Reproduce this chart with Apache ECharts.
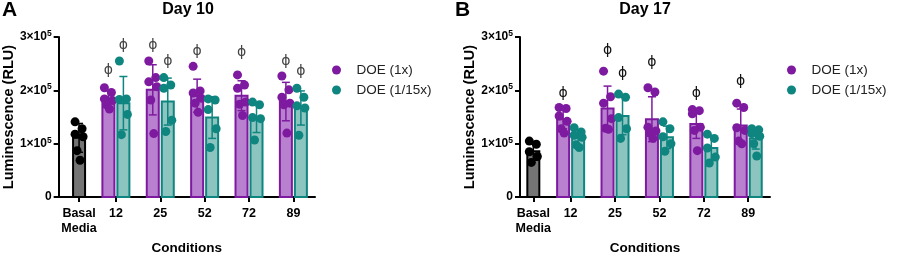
<!DOCTYPE html>
<html>
<head>
<meta charset="utf-8">
<script src="https://cdn.jsdelivr.net/npm/echarts@6/dist/echarts.min.js"></script>
<style>
  html, body { margin: 0; padding: 0; background: #fff; }
  #chart { width: 899px; height: 260px; }
</style>
</head>
<body>
<div id="chart"></div>
<script>
// all values in units of 1x10^5 RLU
const categories = ['Basal\nMedia', '12', '25', '52', '72', '89']
const seriesNames = ['DOE (1x)', 'DOE (1/15x)']

// Day 10
const d10BasalMean = 1.11
const d10BasalSd = 0.27
const d10BasalDots = [1.41, 1.28, 1.18, 1.13, 0.87, 0.69]
const d10Mean1x = [1.84, 2.01, 1.90, 1.90, 1.79]
const d10Sd1x = [0.15, 0.47, 0.31, 0.28, 0.36]
const d10Mean15x = [1.76, 1.79, 1.49, 1.49, 1.67]
const d10Sd15x = [0.50, 0.44, 0.39, 0.28, 0.32]
const d10Dots1x = [
  [2.05, 1.96, 1.84, 1.81, 1.73, 1.65],
  [2.55, 2.24, 2.16, 2.07, 1.82, 1.19],
  [2.45, 1.99, 1.95, 1.85, 1.76, 1.59],
  [2.29, 2.10, 2.04, 1.78, 1.74, 1.53],
  [2.27, 2.01, 1.87, 1.76, 1.73, 1.20]
]
const d10Dots15x = [
  [2.55, 1.84, 1.83, 1.55, 1.17],
  [2.24, 2.10, 2.04, 1.44, 1.23],
  [1.84, 1.82, 1.64, 1.28, 0.93],
  [1.78, 1.73, 1.49, 1.47, 1.07],
  [2.04, 1.87, 1.71, 1.67, 1.16]
]
const d10Phi1x = [2.38, 2.84, 2.73, 2.71, 2.55]
const d10Phi15x = [2.84, 2.55, null, null, 2.36]

// Day 17
const d17BasalMean = 0.86
const d17BasalSd = 0.17
const d17BasalDots = [1.05, 0.99, 0.85, 0.76, 0.65]
const d17Mean1x = [1.46, 1.66, 1.46, 1.37, 1.34]
const d17Sd1x = [0.18, 0.42, 0.42, 0.27, 0.31]
const d17Mean15x = [1.11, 1.52, 1.12, 0.92, 1.10]
const d17Sd15x = [0.14, 0.35, 0.21, 0.23, 0.20]
const d17Dots1x = [
  [1.68, 1.66, 1.52, 1.42, 1.28, 1.20],
  [2.36, 1.88, 1.76, 1.47, 1.29, 1.27],
  [2.05, 1.97, 1.31, 1.24, 1.20, 1.10],
  [1.64, 1.62, 1.56, 1.31, 1.25, 0.87],
  [1.76, 1.68, 1.30, 1.25, 1.05, 1.00]
]
const d17Dots15x = [
  [1.30, 1.22, 1.16, 1.12, 0.98, 0.93],
  [1.93, 1.87, 1.49, 1.28, 1.10],
  [1.41, 1.28, 1.13, 1.00, 0.86],
  [1.18, 1.10, 0.92, 0.75, 0.64],
  [1.28, 1.26, 1.19, 1.14, 1.00, 0.77]
]
const d17Phi1x = [1.95, 2.75, 2.52, 1.94, 2.16]
const d17Phi15x = [null, 2.31, null, null, null]

// layout: group positions on the x axis (1 unit = one group spacing)
const posA = [0.46, 1.29, 2.29, 3.29, 4.29, 5.29]
const posB = [0.30, 1.14, 2.14, 3.14, 4.14, 5.14]

const FONT = 'Liberation Sans'
const PURPLE = '#7e1a9f'
const TEAL = '#0f8580'
const STROKE = ['#000000', PURPLE, TEAL]
const FILL = ['#747474', '#b980d0', '#8cc4c0']
const DX = [0, -7.5, 7.5]
const JITTER = [-4, 3, -4, 4, -2, 1]

function renderBar(params, api) {
  const x = api.value(0), m = api.value(1), sd = api.value(2), k = api.value(3)
  const top = api.coord([x, m])
  const base = api.coord([x, 0])
  const hi = api.coord([x, m + sd])
  const lo = api.coord([x, m - sd])
  const cx = top[0] + DX[k]
  const c = STROKE[k]
  const ls = {stroke: c, lineWidth: 1.5}
  return {
    type: 'group',
    children: [
      {type: 'rect', shape: {x: cx - 6, y: top[1], width: 12, height: base[1] - top[1]},
        style: {fill: FILL[k], stroke: c, lineWidth: 2}},
      {type: 'line', shape: {x1: cx, y1: lo[1], x2: cx, y2: hi[1]}, style: ls},
      {type: 'line', shape: {x1: cx - 4, y1: hi[1], x2: cx + 4, y2: hi[1]}, style: ls},
      {type: 'line', shape: {x1: cx - 4, y1: lo[1], x2: cx + 4, y2: lo[1]}, style: ls}
    ]
  }
}

function phiRenderer(color) {
  return function (params, api) {
    const p = api.coord([api.value(0), api.value(1)])
    return {
      type: 'text',
      x: p[0] + DX[api.value(2)],
      y: p[1],
      style: {text: 'ϕ', fill: color, font: '14px "DejaVu Sans"', align: 'center', verticalAlign: 'middle'}
    }
  }
}

function dotItems(pos, groups, k) {
  const out = []
  groups.forEach((vals, i) => {
    vals.forEach((v, j) => {
      out.push({value: [pos[i], v], symbolOffset: [DX[k] + JITTER[j % JITTER.length], 0]})
    })
  })
  return out
}

function panelSeries(ax, pos, bm, bsd, bdots, m1, s1, m15, s15, dots1, dots15, phi1, phi15, phiColor) {
  const rows = [[pos[0], bm, bsd, 0]]
  m1.forEach((m, i) => rows.push([pos[i + 1], m, s1[i], 1]))
  m15.forEach((m, i) => rows.push([pos[i + 1], m, s15[i], 2]))
  const phis = []
  phi1.forEach((v, i) => { if (v != null) phis.push([pos[i + 1], v, 1]) })
  phi15.forEach((v, i) => { if (v != null) phis.push([pos[i + 1], v, 2]) })
  const scatter = (name, data, color) => ({
    name: name, type: 'scatter', xAxisIndex: ax, yAxisIndex: ax, data: data,
    symbol: 'circle', symbolSize: 9, itemStyle: {color: color, opacity: 1}, z: 3, silent: true
  })
  return [
    {type: 'custom', xAxisIndex: ax, yAxisIndex: ax, renderItem: renderBar, data: rows,
      encode: {x: 0, y: 1}, z: 2, silent: true},
    scatter('Basal', dotItems([pos[0]], [bdots], 0), '#000'),
    scatter(seriesNames[0], dotItems(pos.slice(1), dots1, 1), PURPLE),
    scatter(seriesNames[1], dotItems(pos.slice(1), dots15, 2), TEAL),
    {type: 'custom', xAxisIndex: ax, yAxisIndex: ax, renderItem: phiRenderer(phiColor), data: phis,
      encode: {x: 0, y: 1}, z: 4, silent: true}
  ]
}

function xAxis(grid, pos, max) {
  return {
    type: 'value', gridIndex: grid, min: 0, max: max,
    name: 'Conditions', nameLocation: 'middle', nameGap: 42,
    nameTextStyle: {fontFamily: FONT, fontWeight: 'bold', fontSize: 13.5, color: '#000'},
    axisLine: {show: true, lineStyle: {color: '#000', width: 2}},
    axisTick: {show: true, customValues: pos, length: 5, lineStyle: {color: '#000', width: 2}},
    axisLabel: {
      customValues: pos, margin: 9, lineHeight: 15,
      fontFamily: FONT, fontWeight: 'bold', fontSize: 12.5, color: '#000',
      formatter: v => {
        let best = 0
        pos.forEach((p, i) => { if (Math.abs(p - v) < Math.abs(pos[best] - v)) best = i })
        return categories[best]
      }
    },
    splitLine: {show: false}
  }
}

function yAxis(grid) {
  return {
    type: 'value', gridIndex: grid, min: 0, max: 3, interval: 1,
    name: 'Luminescence (RLU)', nameLocation: 'middle', nameGap: 42,
    nameTextStyle: {fontFamily: FONT, fontWeight: 'bold', fontSize: 14.5, color: '#000'},
    axisLine: {show: true, lineStyle: {color: '#000', width: 2}},
    axisTick: {show: true, length: 5, lineStyle: {color: '#000', width: 2}},
    axisLabel: {
      margin: 7,
      formatter: v => v === 0 ? '{b|0}' : '{b|' + v + '×10}{s|5}',
      rich: {
        b: {fontFamily: FONT, fontWeight: 'bold', fontSize: 12, color: '#000'},
        s: {fontFamily: FONT, fontWeight: 'bold', fontSize: 8.5, color: '#000', padding: [0, 0, 7, 0]}
      }
    },
    splitLine: {show: false}
  }
}

function legend(left) {
  return {
    data: seriesNames, orient: 'vertical', left: left, top: 63, padding: 0,
    itemWidth: 30, itemHeight: 9, itemGap: 6, icon: 'circle', selectedMode: false,
    textStyle: {fontFamily: FONT, fontSize: 13.5, color: '#222'}
  }
}

const titleStyle = size => ({fontFamily: FONT, fontWeight: 'bold', fontSize: size, color: '#000'})

const chart = echarts.init(document.getElementById('chart'), null, {renderer: 'canvas'})
chart.setOption({
  animation: false,
  backgroundColor: '#fff',
  title: [
    {text: 'A', left: 2, top: 0, padding: 0, textStyle: titleStyle(21)},
    {text: 'B', left: 455, top: 0, padding: 0, textStyle: titleStyle(21)},
    {text: 'Day 10', left: 188, top: 2, padding: 0, textAlign: 'center', textStyle: titleStyle(16)},
    {text: 'Day 17', left: 645, top: 2, padding: 0, textAlign: 'center', textStyle: titleStyle(16)}
  ],
  legend: [legend(332), legend(787)],
  grid: [
    {left: 58.5, top: 37, width: 256.5, height: 165.5, containLabel: false},
    {left: 520, top: 37, width: 250, height: 165.5, containLabel: false}
  ],
  xAxis: [xAxis(0, posA, 5.777), xAxis(1, posB, 5.63)],
  yAxis: [yAxis(0), yAxis(1)],
  series: [
    ...panelSeries(0, posA, d10BasalMean, d10BasalSd, d10BasalDots, d10Mean1x, d10Sd1x,
      d10Mean15x, d10Sd15x, d10Dots1x, d10Dots15x, d10Phi1x, d10Phi15x, '#444'),
    ...panelSeries(1, posB, d17BasalMean, d17BasalSd, d17BasalDots, d17Mean1x, d17Sd1x,
      d17Mean15x, d17Sd15x, d17Dots1x, d17Dots15x, d17Phi1x, d17Phi15x, '#111')
  ]
})
</script>
</body>
</html>
